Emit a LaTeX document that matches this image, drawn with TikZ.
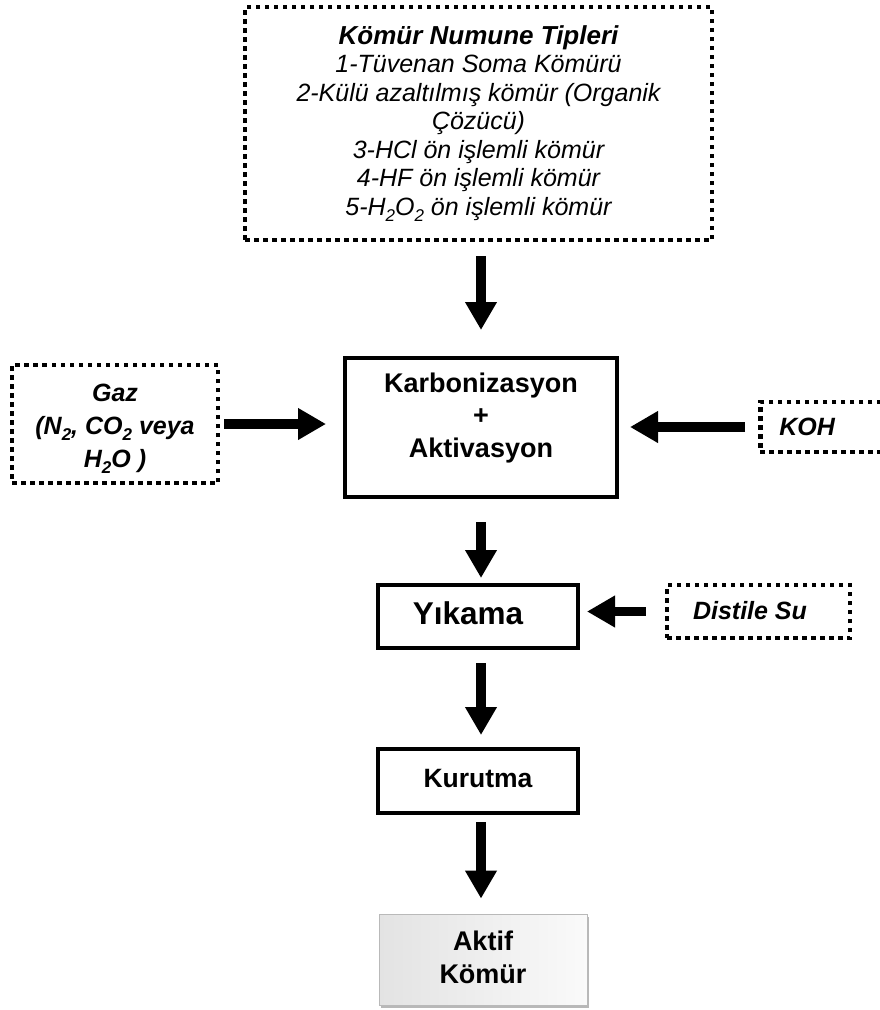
\documentclass[tikz,border=0pt]{standalone}
\usepackage{fontspec}
\setmainfont{Liberation Sans}
\usetikzlibrary{arrows.meta,shadows}
\newcommand\mysubs[1]{\raisebox{-6pt}{\fontsize{17}{17}\selectfont #1}}
\tikzset{
  dotbox/.style={draw=black, line width=4.5pt, dash pattern=on 4.5pt off 4.5pt, line cap=butt, rectangle, inner sep=0pt, align=center},
  solidbox/.style={draw=black, line width=4pt, rectangle, inner sep=0pt},
  boldlbl/.style={inner sep=0pt, align=center, font=\fontsize{27}{32.5}\selectfont\bfseries},
  bilbl/.style={inner sep=0pt, align=center, font=\fontsize{25}{33}\selectfont\bfseries\itshape},
  bigarrow/.style={line width=9.5pt, -{Triangle[length=28pt,width=30pt]}},
}
\begin{document}
\begin{tikzpicture}[x=1pt,y=-1pt]
\useasboundingbox (0,0) rectangle (879,1010);
% top box
\node (top) [dotbox, minimum width=467pt, minimum height=233pt, font=\fontsize{25}{28.5}\selectfont\itshape] at (478.5,123.5)
  {{\bfseries\fontsize{26}{28.5}\selectfont Kömür Numune Tipleri}\\1-Tüvenan Soma Kömürü\\2-Külü azaltılmış kömür (Organik\\Çözücü)\\3-HCl ön işlemli kömür\\4-HF ön işlemli kömür\\5-H\mysubs{2}O\mysubs{2} ön işlemli kömür};
% main
\node (main) [solidbox, minimum width=272pt, minimum height=139pt] at (481,427.5) {};
\node (mainlbl) [boldlbl] at (481,418) {Karbonizasyon\\+\\Aktivasyon};
% gaz
\node (gaz) [dotbox, minimum width=206pt, minimum height=118pt] at (115,424) {};
\node (gazlbl) [bilbl] at (115,429) {Gaz\\(N\mysubs{2}, CO\mysubs{2} veya\\H\mysubs{2}O )};
% koh
\node (koh) [dotbox, anchor=west, minimum height=50pt, text width=110pt, align=left, inner xsep=19pt, font=\fontsize{25}{30}\selectfont\bfseries\itshape] at (758,427) {KOH};
% yikama
\node (yik) [solidbox, minimum width=200pt, minimum height=63pt] at (478,616.5) {};
\node (yiklbl) [boldlbl, font=\fontsize{31.5}{33}\selectfont\bfseries] at (468,613) {Yıkama};
% distile su
\node (dist) [dotbox, minimum width=183pt, minimum height=53pt] at (758.5,611.5) {};
\node (distlbl) [bilbl, font=\fontsize{25}{30}\selectfont\bfseries\itshape] at (750,611) {Distile Su};
% kurutma
\node (kur) [solidbox, minimum width=200pt, minimum height=64pt] at (478,781) {};
\node (kurlbl) [boldlbl, font=\fontsize{26.5}{30}\selectfont\bfseries] at (478,778.5) {Kurutma};
% aktif
\node (akt) [rectangle, draw=gray!55, line width=0.8pt, left color=gray!22, right color=gray!4, minimum width=208pt, minimum height=91pt,
  drop shadow={shadow xshift=1.5pt, shadow yshift=-3pt, fill=gray!70, opacity=0.8}] at (483,959.5) {};
\node (aktlbl) [boldlbl, font=\fontsize{27}{33}\selectfont\bfseries] at (483,957) {Aktif\\Kömür};
% arrows
\draw[bigarrow, shorten <=14pt, shorten >=26pt] (top.south -| main.north) -- (main.north);
\draw[bigarrow, shorten <=4pt, shorten >=17pt] (gaz.east) -- (gaz.east -| main.west);
\draw[bigarrow, shorten <=13pt, shorten >=11pt] (koh.west) -- (koh.west -| main.east);
\draw[bigarrow, shorten <=23pt, shorten >=5pt] (main.south) -- (main.south |- yik.north);
\draw[bigarrow, shorten <=19pt, shorten >=7pt] (dist.west) -- (dist.west -| yik.east);
\draw[bigarrow, shorten <=13pt, shorten >=12pt] (yik.south -| main.south) -- (kur.north -| main.south);
\draw[bigarrow, shorten <=7pt, shorten >=15pt] (kur.south -| main.south) -- (akt.north -| main.south);
\end{tikzpicture}
\end{document}
